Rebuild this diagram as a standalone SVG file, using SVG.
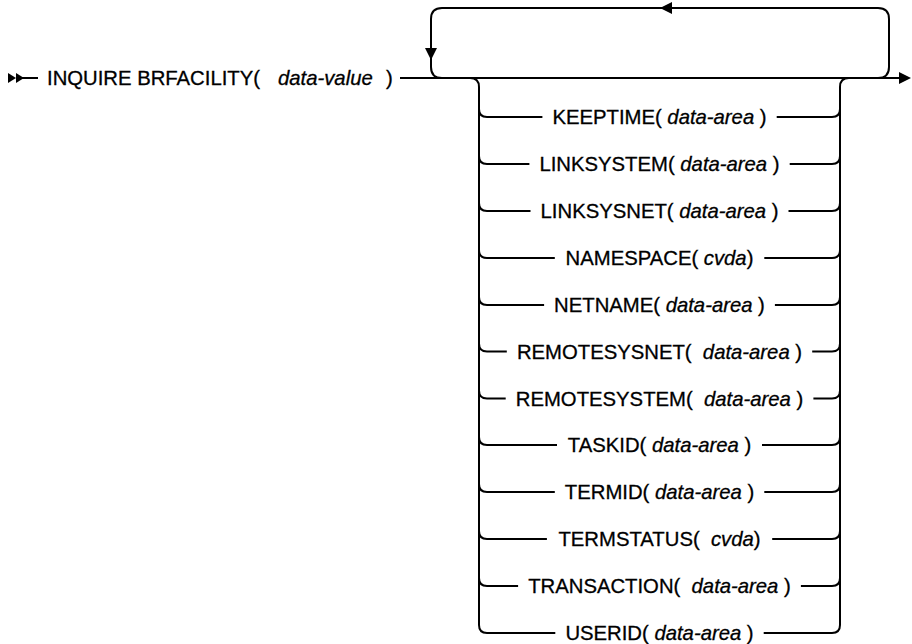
<svg xmlns="http://www.w3.org/2000/svg" width="912" height="644" viewBox="0 0 912 644">
<style>
text{font-family:"Liberation Sans",Arial,"DejaVu Sans",sans-serif;font-size:20.3px;fill:#000;stroke:#000;stroke-width:0.3;white-space:pre}
.c{text-anchor:middle}
.i{font-style:italic}
.ln{fill:none;stroke:#000;stroke-width:2}
.ah{fill:#000;stroke:none}
</style>
<rect width="912" height="644" fill="#fff"/>
<g id="connectors">
<polygon class="ah" points="8,73 16,78 8,83"/>
<polygon class="ah" points="16,73 24,78 16,83"/>
<path class="ln" d="M22 78 H38"/>
<path class="ln" d="M400 78 H900"/>
<path class="ln" d="M878 78 Q889 78 889 67 V19 Q889 8 878 8 H442 Q431 8 431 19 V67 Q431 78 442 78"/>
<polygon class="ah" points="660,8 672,2 672,14"/>
<polygon class="ah" points="425,48 437,48 431,60"/>
<polygon class="ah" points="899,72 911,78 899,84"/>
<path class="ln" d="M470 78 Q479 78 479 87 V625 Q479 633 487 633 H555.3"/>
<path class="ln" d="M849 78 Q840 78 840 87 V625 Q840 633 832 633 H763.7"/>
<path class="ln" d="M479 109 Q479 117 487 117 H542.4 M776.7 117 H832 Q840 117 840 109"/>
<path class="ln" d="M479 156 Q479 164 487 164 H529.4 M789.7 164 H832 Q840 164 840 156"/>
<path class="ln" d="M479 203 Q479 211 487 211 H530.5 M788.5 211 H832 Q840 211 840 203"/>
<path class="ln" d="M479 250 Q479 258 487 258 H554.8 M764.3 258 H832 Q840 258 840 250"/>
<path class="ln" d="M479 297 Q479 305 487 305 H544.1 M774.9 305 H832 Q840 305 840 297"/>
<path class="ln" d="M479 343.5 Q479 351.5 487 351.5 H506.8 M812.2 351.5 H832 Q840 351.5 840 343.5"/>
<path class="ln" d="M479 390.5 Q479 398.5 487 398.5 H505.7 M813.4 398.5 H832 Q840 398.5 840 390.5"/>
<path class="ln" d="M479 437 Q479 445 487 445 H557 M762 445 H832 Q840 445 840 437"/>
<path class="ln" d="M479 484 Q479 492 487 492 H554.8 M764.3 492 H832 Q840 492 840 484"/>
<path class="ln" d="M479 531 Q479 539 487 539 H546.9 M772.2 539 H832 Q840 539 840 531"/>
<path class="ln" d="M479 578 Q479 586 487 586 H518.1 M800.9 586 H832 Q840 586 840 578"/>
</g>
<g id="main"><text x="47" y="85.3">INQUIRE BRFACILITY(</text><text class="i" x="278" y="85.3">data-value</text><text x="386" y="85.3">)</text></g>
<g id="keeptime"><text class="c" x="659.5" y="124.3">KEEPTIME( <tspan class="i">data-area</tspan> )</text></g>
<g id="linksystem"><text class="c" x="659.5" y="171.3">LINKSYSTEM( <tspan class="i">data-area</tspan> )</text></g>
<g id="linksysnet"><text class="c" x="659.5" y="218.3">LINKSYSNET( <tspan class="i">data-area</tspan> )</text></g>
<g id="namespace"><text class="c" x="659.5" y="265.3">NAMESPACE( <tspan class="i">cvda</tspan>)</text></g>
<g id="netname"><text class="c" x="659.5" y="312.3">NETNAME( <tspan class="i">data-area</tspan> )</text></g>
<g id="remotesysnet"><text class="c" x="659.5" y="358.8">REMOTESYSNET(  <tspan class="i">data-area</tspan> )</text></g>
<g id="remotesystem"><text class="c" x="659.5" y="405.8">REMOTESYSTEM(  <tspan class="i">data-area</tspan> )</text></g>
<g id="taskid"><text class="c" x="659.5" y="452.3">TASKID( <tspan class="i">data-area</tspan> )</text></g>
<g id="termid"><text class="c" x="659.5" y="499.3">TERMID( <tspan class="i">data-area</tspan> )</text></g>
<g id="termstatus"><text class="c" x="659.5" y="546.3">TERMSTATUS(  <tspan class="i">cvda</tspan>)</text></g>
<g id="transaction"><text class="c" x="659.5" y="593.3">TRANSACTION(  <tspan class="i">data-area</tspan> )</text></g>
<g id="userid"><text class="c" x="659.5" y="640.3">USERID( <tspan class="i">data-area</tspan> )</text></g>
</svg>
